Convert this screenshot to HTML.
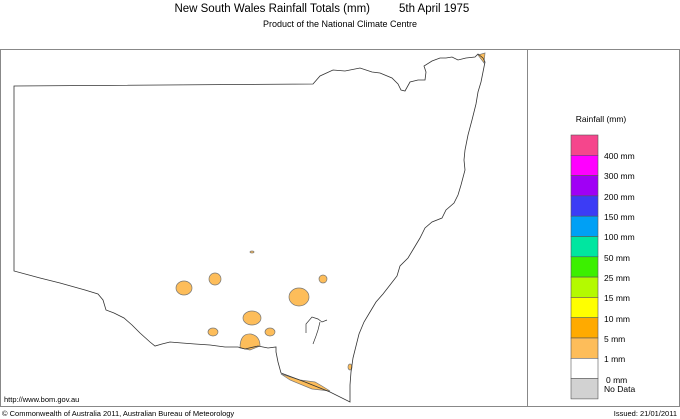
<!DOCTYPE html>
<html><head><style>
body{margin:0;background:#fff;}
svg{display:block;font-family:"Liberation Sans",sans-serif;}
</style></head><body>
<svg width="680" height="419" viewBox="0 0 680 419">
<text x="370" y="12" font-size="11.5" text-anchor="end">New South Wales Rainfall Totals (mm)</text>
<text x="399" y="12" font-size="11.5">5th April 1975</text>
<text x="340" y="27" font-size="9" text-anchor="middle">Product of the National Climate Centre</text>
<rect x="0.5" y="49.5" width="679" height="357" fill="none" stroke="#888" stroke-width="1"/>
<line x1="527.5" y1="49" x2="527.5" y2="407" stroke="#888"/>
<g fill="#fdbd5a" stroke="#777" stroke-width="0.7">
<ellipse cx="184" cy="288" rx="8" ry="7"/>
<ellipse cx="215" cy="279" rx="6" ry="6"/>
<ellipse cx="299" cy="297" rx="10" ry="9"/>
<ellipse cx="323" cy="279" rx="4" ry="4"/>
<ellipse cx="252" cy="318" rx="9" ry="7"/>
<ellipse cx="213" cy="332" rx="5" ry="4"/>
<ellipse cx="270" cy="332" rx="5" ry="4"/>
<path d="M240 348 Q240 333 251 334 Q260 336 260 346 L250 350 Z"/>
<path d="M478 55 L485 53 L484 63 Z"/>
<path d="M281 374 L300 380 L315 382 L322 386 L330 391 L312 389 L290 380 Z"/>
<ellipse cx="350" cy="367" rx="2" ry="3"/>
<ellipse cx="252" cy="252" rx="2" ry="1"/>
</g>
<path fill="none" stroke="#333" stroke-width="0.8" d="M14 86 L313 84 L320 76 L333 70 L345 71 L360 68 L372 72 L380 73 L392 78 L398 84 L401 90 L405 91 L410 82 L418 80 L425 80 L426 72 L424 66 L432 61 L440 58 L446 58 L452 57 L458 60 L466 58 L475 57 L478 54 L483 58 L485 62 L483 72 L481 82 L478 92 L476 104 L472 120 L468 135 L465 150 L464 160 L465 170 L461 185 L458 195 L454 203 L446 210 L442 218 L432 222 L425 228 L420 238 L414 248 L408 258 L400 266 L397 276 L390 285 L383 294 L376 302 L370 312 L364 322 L359 334 L356 346 L353 358 L351 372 L350 385 L350 402 L330 392 L305 382 L281 373 L278 362 L276 352 L276 347 L268 348 L258 346 L245 349 L238 347 L225 347 L210 345 L195 344 L182 343 L170 342 L162 344 L155 346 L150 342 L140 333 L132 325 L124 318 L114 313 L106 310 L103 300 L98 294 L85 290 L60 283 L40 278 L14 271 Z"/>
<path fill="none" stroke="#333" stroke-width="0.7" d="M306 333 L306 324 L312 317 L318 319 L322 322 L327 320 M320 322 L318 330 L316 336 L313 344"/>
<text x="4" y="402" font-size="7.5">http://www.bom.gov.au</text>
<text x="2" y="416" font-size="7.5">© Commonwealth of Australia 2011, Australian Bureau of Meteorology</text>
<text x="677" y="416" font-size="7.5" text-anchor="end">Issued: 21/01/2011</text>
<text x="601" y="122" font-size="8.5" text-anchor="middle">Rainfall (mm)</text>
<g stroke="#555" stroke-width="0.6">
<rect x="571" y="135" width="27" height="20.3" fill="#f5468c"/>
<rect x="571" y="155.3" width="27" height="20.3" fill="#ff00ff"/>
<rect x="571" y="175.6" width="27" height="20.3" fill="#a000f5"/>
<rect x="571" y="195.9" width="27" height="20.3" fill="#3c3cf5"/>
<rect x="571" y="216.2" width="27" height="20.3" fill="#00a0f5"/>
<rect x="571" y="236.5" width="27" height="20.3" fill="#00e6a0"/>
<rect x="571" y="256.8" width="27" height="20.3" fill="#3cf000"/>
<rect x="571" y="277.1" width="27" height="20.3" fill="#b4fa00"/>
<rect x="571" y="297.4" width="27" height="20.3" fill="#ffff00"/>
<rect x="571" y="317.7" width="27" height="20.3" fill="#ffaa00"/>
<rect x="571" y="338" width="27" height="20.3" fill="#fdbd5a"/>
<rect x="571" y="358.3" width="27" height="20.3" fill="#ffffff"/>
<rect x="571" y="378.6" width="27" height="20.3" fill="#d2d2d2"/>
</g>
<g font-size="8.5">
<text x="604" y="159">400 mm</text>
<text x="604" y="179">300 mm</text>
<text x="604" y="200">200 mm</text>
<text x="604" y="220">150 mm</text>
<text x="604" y="240">100 mm</text>
<text x="604" y="261">50 mm</text>
<text x="604" y="281">25 mm</text>
<text x="604" y="301">15 mm</text>
<text x="604" y="322">10 mm</text>
<text x="604" y="342">5 mm</text>
<text x="604" y="362">1 mm</text>
<text x="606" y="383">0 mm</text>
<text x="604" y="392">No Data</text>
</g>
</svg>
</body></html>
